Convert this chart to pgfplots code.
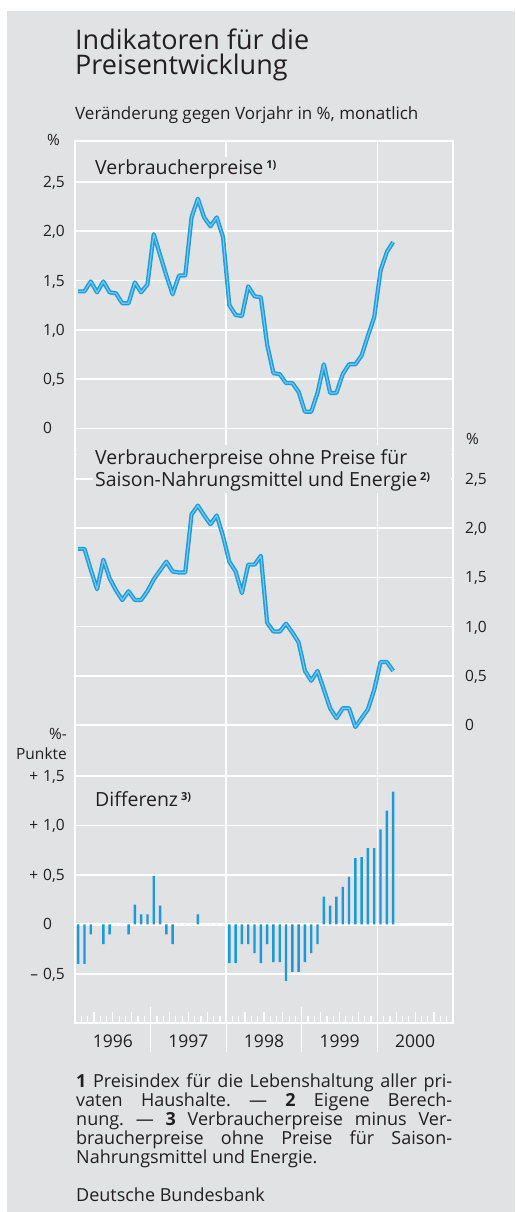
\documentclass[border=0pt]{standalone}
\usepackage{fontspec}
\setmainfont{Open Sans}
\usepackage{pgfplots}
\pgfplotsset{compat=1.18}
\usepackage{pgfplotstable}
\definecolor{bg}{RGB}{225,226,228}
\definecolor{txt}{HTML}{231F20}
\definecolor{lineblue}{HTML}{1F9DD9}
\definecolor{linelight}{HTML}{74C7EE}
\definecolor{barblue}{HTML}{1A9AD6}
\newcommand\fs[2]{\fontsize{#1}{#2}\selectfont}

\pgfplotstableread{
x vpi ohne diff
0.5 1.39 1.79 -0.40
1.5 1.39 1.79 -0.40
2.5 1.49 1.58 -0.10
3.5 1.38 1.38 0
4.5 1.49 1.68 -0.20
5.5 1.38 1.49 -0.10
6.5 1.37 1.37 0
7.5 1.27 1.27 0
8.5 1.27 1.36 -0.10
9.5 1.48 1.27 0.20
10.5 1.38 1.27 0.10
11.5 1.46 1.36 0.10
12.5 1.97 1.48 0.49
13.5 1.76 1.57 0.19
14.5 1.55 1.66 -0.10
15.5 1.36 1.56 -0.20
16.5 1.55 1.55 0
17.5 1.55 1.55 0
18.5 2.14 2.14 0
19.5 2.33 2.23 0.10
20.5 2.14 2.13 0
21.5 2.05 2.04 0
22.5 2.14 2.13 0
23.5 1.94 1.92 0
24.5 1.25 1.66 -0.39
25.5 1.15 1.56 -0.39
26.5 1.14 1.34 -0.20
27.5 1.44 1.63 -0.20
28.5 1.34 1.63 -0.29
29.5 1.33 1.72 -0.39
30.5 0.85 1.04 -0.20
31.5 0.56 0.95 -0.38
32.5 0.55 0.95 -0.38
33.5 0.46 1.03 -0.57
34.5 0.46 0.94 -0.48
35.5 0.37 0.84 -0.48
36.5 0.17 0.55 -0.38
37.5 0.17 0.45 -0.29
38.5 0.36 0.55 -0.20
39.5 0.65 0.36 0.28
40.5 0.36 0.17 0.19
41.5 0.36 0.07 0.28
42.5 0.55 0.17 0.38
43.5 0.65 0.17 0.48
44.5 0.65 -0.02 0.67
45.5 0.74 0.07 0.68
46.5 0.94 0.16 0.77
47.5 1.13 0.36 0.77
48.5 1.60 0.64 0.96
49.5 1.79 0.64 1.15
50.5 1.89 0.55 1.34
}\datatable

\pgfplotsset{
  panel/.style={
    at={(75pt,189pt)}, anchor=south west, scale only axis,
    width=378pt, height=882pt, xmin=0, xmax=60,
    grid style={white, line width=1.5pt},
    tick style={white, line width=1.2pt},
    xtick pos=left, tick align=inside,
  },
  leftlab/.style={yticklabel style={font=\fs{15.5pt}{18pt}, anchor=base west, inner sep=0pt, xshift=-32pt, yshift=-5.5pt, text=txt}},
}

\begin{document}
\begin{tikzpicture}[x=1pt,y=1pt]
\path[use as bounding box] (0,0) rectangle (515,1212);
\fill[white] (0,0) rectangle (515,1212);
\fill[bg] (7,0) rectangle (515,1201);

% top panel: Verbraucherpreise
\begin{axis}[panel, ymin=-6.03, ymax=2.915,
  axis line style={white, line width=1.5pt},
  major tick length=0pt,
  xtick={6,18,30,42,54}, xticklabels={1996,1997,1998,1999,2000},
  xticklabel style={font=\fs{17.5pt}{20pt}, anchor=base, inner sep=0pt, yshift=-25pt, text=txt},
  extra x ticks={24,48}, extra x tick labels={}, extra x tick style={grid=major},
  ytick={0,0.5,1,1.5,2,2.5}, yticklabels={0,{0,5},{1,0},{1,5},{2,0},{2,5}}, ytick pos=left,
  ymajorgrids, leftlab]
\addplot[no marks, lineblue, line width=4.2pt, line join=round] table[x=x,y=vpi]{\datatable};
\addplot[no marks, linelight, line width=1.2pt, line join=round] table[x=x,y=vpi]{\datatable};
\end{axis}

% middle panel: ohne Saison-Nahrungsmittel und Energie
\begin{axis}[panel, ymin=-3.028, ymax=5.935,
  axis line style={draw=none},
  xtick={0,12,...,60}, xticklabels={}, major tick length=16pt,
  ytick={0,0.5,1,1.5,2,2.5}, yticklabels={0,{0,5},{1,0},{1,5},{2,0},{2,5}},
  ytick pos=right, yticklabel pos=right,
  ymajorgrids, extra y ticks={2.75}, extra y tick labels={}, extra y tick style={grid=major},
  yticklabel style={font=\fs{15.5pt}{18pt}, anchor=base west, inner sep=0pt, xshift=12pt, yshift=-5.5pt, text=txt}]
\addplot[no marks, lineblue, line width=4.2pt, line join=round] table[x=x,y=ohne]{\datatable};
\addplot[no marks, linelight, line width=1.2pt, line join=round] table[x=x,y=ohne]{\datatable};
\end{axis}

% bottom panel: Differenz
\begin{axis}[panel, ymin=-0.996, ymax=7.913,
  axis line style={draw=none},
  xtick={0,3,...,60}, xticklabels={}, major tick length=11pt,
  minor x tick num=2, minor tick length=7pt,
  ytick={-0.5,0,0.5,1,1.5},
  yticklabels={{\llap{–\hspace{5pt}}0,5},0,{\llap{+\hspace{5pt}}0,5},{\llap{+\hspace{5pt}}1,0},{\llap{+\hspace{5pt}}1,5}},
  ytick pos=left,
  ymajorgrids, extra y ticks={0}, extra y tick labels={},
  extra y tick style={grid=major, major grid style={white, line width=2.6pt}},
  leftlab]
\addplot[ybar, bar width=2.4pt, bar shift=0pt, fill=barblue, draw=none] table[x=x,y=diff]{\datatable};
\end{axis}

% year separators below the axis
\foreach \xx in {150.6,226.2,301.8,377.4}
  \draw[white, line width=1.2pt] (\xx,189) -- (\xx,160);

% titles
\begin{scope}[every node/.style={anchor=base west, inner sep=0pt, text=txt}]
\node[font=\fs{27pt}{27pt}] at (75,1162.7) {Indikatoren für die};
\node[font=\fs{27pt}{27pt}] at (75,1137) {Preisentwicklung};
\node[font=\fs{17pt}{17pt}] at (75,1092.5) {Veränderung gegen Vorjahr in \%, monatlich};
\node[font=\fs{15.5pt}{15.5pt}] at (47,1066) {\%};
\node[font=\fs{15.5pt}{15.5pt}] at (466,767) {\%};
\node[font=\fs{15.5pt}{15.5pt}, anchor=base east] at (67,472) {\%-};
\node[font=\fs{15.5pt}{15.5pt}, anchor=base east] at (67,452) {Punkte};

\node[font=\fs{19.5pt}{19.5pt}, fill=bg, inner sep=2pt] at (93,1037.7)
  {Verbraucherpreise\hspace{3pt}\raisebox{6pt}{\fs{11pt}{11pt}\bfseries 1)}};

\fill[bg] (77,742) rectangle (451,767);
\fill[bg] (93,719) rectangle (451,742);
\node[font=\fs{19.5pt}{19.5pt}] at (95,747) {Verbraucherpreise ohne Preise für};
\node[font=\fs{19.5pt}{19.5pt}] at (95,725.5)
  {Saison-Nahrungsmittel und Energie\hspace{3pt}\raisebox{6pt}{\fs{11pt}{11pt}\bfseries 2)}};

\node[font=\fs{19.5pt}{19.5pt}] at (95,405)
  {Differenz\hspace{3pt}\raisebox{6pt}{\fs{11pt}{11pt}\bfseries 3)}};

% footnotes
\node[font=\fs{18pt}{19pt}\frenchspacing] at (76,124) {\makebox[376pt][s]{\textbf{1} Preisindex für die Lebenshaltung aller pri-}};
\node[font=\fs{18pt}{19pt}\frenchspacing] at (76,105) {\makebox[376pt][s]{vaten Haushalte. — \textbf{2} Eigene Berech-}};
\node[font=\fs{18pt}{19pt}\frenchspacing] at (76,86) {\makebox[376pt][s]{nung. — \textbf{3} Verbraucherpreise minus Ver-}};
\node[font=\fs{18pt}{19pt}\frenchspacing] at (76,67) {\makebox[376pt][s]{braucherpreise ohne Preise für Saison-}};
\node[font=\fs{18pt}{19pt}] at (76,48) {Nahrungsmittel und Energie.};
\node[font=\fs{18pt}{19pt}] at (76,10.8) {Deutsche Bundesbank};
\end{scope}
\end{tikzpicture}
\end{document}
